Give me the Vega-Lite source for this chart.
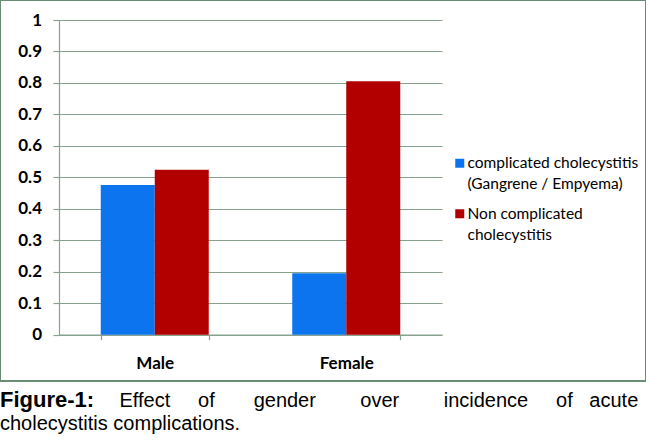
{
  "$schema": "https://vega.github.io/schema/vega-lite/v6.json",
  "width": 646,
  "height": 381,
  "padding": 0,
  "background": "white",
  "data": {
    "values": [
      {"gender": "Male", "series": "complicated cholecystitis (Gangrene / Empyema)", "value": 0.476},
      {"gender": "Male", "series": "Non complicated cholecystitis", "value": 0.524},
      {"gender": "Female", "series": "complicated cholecystitis (Gangrene / Empyema)", "value": 0.195},
      {"gender": "Female", "series": "Non complicated cholecystitis", "value": 0.805}
    ]
  },
  "title": {
    "text": "Figure-1:",
    "subtitle": "cholecystitis complications.",
    "orient": "bottom",
    "anchor": "start",
    "frame": "bounds",
    "offset": -20,
    "font": "Liberation Sans",
    "fontSize": 22,
    "fontWeight": "bold",
    "color": "#000000",
    "subtitleFont": "Liberation Sans",
    "subtitleFontSize": 20,
    "subtitleFontWeight": "normal",
    "subtitleColor": "#000000",
    "subtitleLineHeight": 24,
    "subtitlePadding": 2
  },
  "mark": {"type": "bar"},
  "encoding": {
    "x": {
      "field": "gender",
      "type": "nominal",
      "sort": ["Male", "Female"],
      "scale": {"range": [59, 442], "paddingInner": 0.436, "paddingOuter": 0.218},
      "axis": {
        "offset": -46.3,
        "title": "Effect\u00a0\u00a0\u00a0\u00a0\u00a0of\u00a0\u00a0\u00a0\u00a0\u00a0\u00a0\u00a0gender\u00a0\u00a0\u00a0\u00a0\u00a0\u00a0\u00a0\u00a0over\u00a0\u00a0\u00a0\u00a0\u00a0\u00a0\u00a0\u00a0incidence\u00a0\u00a0\u00a0\u00a0\u00a0of\u00a0\u00a0\u00a0acute",
        "titleX": 119,
        "titleY": 71.3,
        "titleAlign": "left",
        "titleBaseline": "alphabetic",
        "titleFont": "Liberation Sans",
        "titleFontSize": 20,
        "titleFontWeight": "normal",
        "titleColor": "#000000",
        "labelAngle": 0,
        "tickBand": "extent",
        "tickSize": 5,
        "labelPadding": 16,
        "labelFont": "Lato",
        "labelFontSize": 17,
        "labelFontWeight": "bold",
        "labelColor": "#000000",
        "domainColor": "#86A28E",
        "tickColor": "#86A28E",
        "domainWidth": 1.2,
        "tickWidth": 1.2,
        "grid": false
      }
    },
    "xOffset": {
      "field": "series",
      "type": "nominal",
      "sort": ["complicated cholecystitis (Gangrene / Empyema)", "Non complicated cholecystitis"],
      "scale": {"paddingInner": 0, "paddingOuter": 0}
    },
    "y": {
      "field": "value",
      "type": "quantitative",
      "scale": {"domain": [0, 1], "range": [334.7, 20], "nice": false},
      "axis": {
        "values": [0, 0.1, 0.2, 0.3, 0.4, 0.5, 0.6, 0.7, 0.8, 0.9, 1],
        "format": "~g",
        "offset": -59,
        "title": null,
        "grid": true,
        "gridColor": "#86A28E",
        "gridWidth": 1.2,
        "domainColor": "#86A28E",
        "domainWidth": 1.2,
        "tickColor": "#86A28E",
        "tickWidth": 1.2,
        "tickSize": 6,
        "labelPadding": 11.5,
        "labelFont": "Lato",
        "labelFontSize": 17,
        "labelFontWeight": "bold",
        "labelColor": "#000000",
        "labelFlush": false,
        "labelOverlap": false
      }
    },
    "color": {
      "field": "series",
      "type": "nominal",
      "scale": {
        "domain": ["complicated cholecystitis (Gangrene / Empyema)", "Non complicated cholecystitis"],
        "range": ["#0B74EE", "#B20000"]
      },
      "legend": {
        "title": null,
        "orient": "none",
        "legendX": 452,
        "legendY": 155.5,
        "padding": 0,
        "symbolType": "square",
        "symbolSize": 81,
        "symbolStrokeWidth": 0,
        "labelFont": "Lato",
        "labelFontSize": 15.5,
        "labelColor": "#000000",
        "labelLimit": 0,
        "labelOffset": 0,
        "rowPadding": 12.5,
        "labelExpr": "datum.label == 'Non complicated cholecystitis' ? ['Non complicated', 'cholecystitis'] : ['complicated cholecystitis', '(Gangrene / Empyema)']",
        "encoding": {"labels": {"lineHeight": {"value": 21}}}
      }
    }
  },
  "config": {
    "view": {"stroke": "#6A8B74", "strokeWidth": 2}
  }
}
